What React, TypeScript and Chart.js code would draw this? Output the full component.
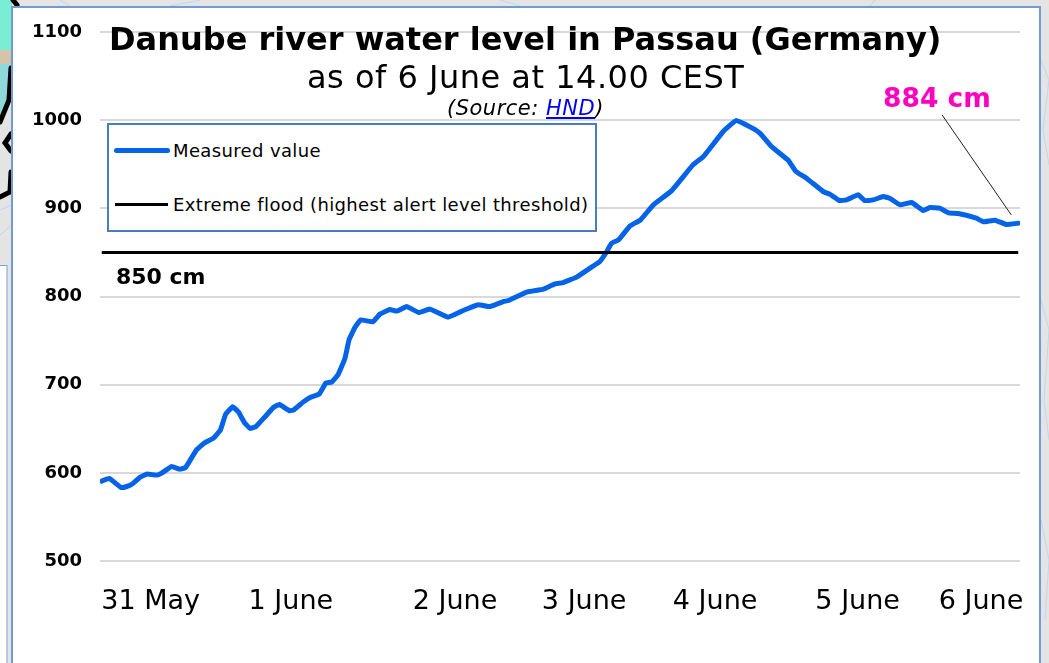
import React, { useEffect, useRef } from "react";
import { Chart, registerables } from "chart.js";

Chart.register(...registerables);

const FONT = '"DejaVu Sans", sans-serif';

const hours = [0.3, 1.6, 3.6, 4.6, 5.6, 6.9, 8.1, 9.7, 10.6, 12.3, 13.7, 14.7, 16.6, 17.9, 19.5, 20.7, 21.6, 22.8, 23.8, 24.8, 25.8, 26.8, 28.4, 29.8, 30.8, 32.6, 33.3, 34.9, 36.1, 37.7, 38.8, 39.8, 40.9, 42.1, 42.8, 43.8, 44.8, 46.9, 48.1, 49.8, 51, 52.7, 54.8, 56.7, 59.8, 62.4, 65, 67, 69.3, 70.2, 73.3, 76.2, 78.2, 79.6, 81.9, 84.2, 85.9, 87.1, 87.9, 89.1, 91.1, 92.9, 95.1, 98.2, 101.9, 103.7, 107.1, 109.3, 111.7, 113.4, 115.4, 118.3, 119.6, 121.4, 124.3, 125.4, 127.1, 128.3, 130.3, 131.4, 132.9, 134.6, 135.7, 137.5, 139.5, 141.5, 142.6, 144.3, 145.8, 147.5, 150.6, 151.8, 153.8, 155.8, 157.8];
const levels = [590.6, 593.6, 583.4, 584.5, 587.6, 595.2, 598.6, 597.4, 599.7, 607.2, 604.2, 606, 626.1, 633.7, 639.4, 648.8, 666.6, 674.9, 668.9, 657.1, 650.3, 652.5, 663.9, 674.1, 677.5, 670.3, 671.5, 680.2, 685.4, 689.6, 701.8, 702.9, 711.2, 730.1, 750.9, 764.8, 773.5, 771.3, 780, 785.2, 783.4, 788.6, 781.8, 785.7, 776.6, 784.1, 790.6, 788.6, 794.3, 795.4, 805, 808.4, 814.4, 815.8, 822, 832.2, 839.7, 851, 860.5, 864.3, 880.1, 887, 904, 919.8, 949.3, 958.7, 987.1, 999.5, 992.4, 985.3, 970.1, 954.2, 941.7, 934.2, 919, 916.1, 908.8, 909.6, 915.3, 908.8, 909.6, 913.4, 911.5, 904, 906.6, 897.5, 900.9, 900.2, 894.9, 894.1, 888.9, 884.7, 886.6, 881.6, 883.2];

const thresholdHours = [0.3, 157.8];
const thresholdLevels = [850, 850];
const leaderHours = [144.7, 156.6];
const leaderLevels = [1006, 892.6];

const dayTicks = [8.7, 32.8, 61, 83.2, 105.7, 130.2, 151.4];
const dayLabels = ["31 May", "1 June", "2 June", "3 June", "4 June", "5 June", "6 June"];
const yTicks = [500, 600, 700, 800, 900, 1000, 1100];

const LEGEND_MEASURED = "Measured value";
const LEGEND_EXTREME = "Extreme flood (highest alert level threshold)";

const zip = (xs: number[], ys: number[]) => xs.map((x, i) => ({ x, y: ys[i] }));

const backdrop = {
  id: "backdrop",
  beforeDraw(chart: any) {
    const c = chart.ctx;
    c.save();
    c.fillStyle = "#e4e4e4";
    c.fillRect(0, 0, 1049, 663);
    // faint rivers of the map behind the panel
    c.strokeStyle = "#c3d5ea";
    c.lineWidth = 1;
    c.beginPath();
    c.moveTo(1041, 60); c.lineTo(1049, 80); c.lineTo(1043, 130); c.lineTo(1049, 165);
    c.moveTo(1041, 300); c.lineTo(1049, 330); c.lineTo(1044, 400); c.lineTo(1049, 440);
    c.moveTo(1041, 520); c.lineTo(1049, 560); c.lineTo(1045, 620);
    c.moveTo(60, 0); c.lineTo(70, 6); c.moveTo(170, 6); c.lineTo(200, 0);
    c.moveTo(500, 0); c.lineTo(520, 6); c.moveTo(870, 6); c.lineTo(875, 0);
    c.moveTo(0, 210); c.lineTo(12, 205); c.moveTo(0, 235); c.lineTo(12, 225);
    c.stroke();
    // teal and tan fragment of the map, top left
    c.fillStyle = "#7aeed4";
    c.fillRect(0, 0, 12, 50);
    c.fillStyle = "#d3c4aa";
    c.fillRect(0, 50, 12, 14);
    c.fillStyle = "#8fd8dc";
    c.beginPath();
    c.moveTo(0, 64); c.lineTo(12, 64); c.lineTo(8, 100); c.lineTo(0, 118); c.closePath();
    c.fill();
    c.strokeStyle = "#000";
    c.lineWidth = 5;
    c.lineCap = "round";
    c.beginPath();
    c.moveTo(11, 68); c.lineTo(9, 100); c.lineTo(0, 122);
    c.moveTo(11, 134); c.lineTo(5, 143); c.lineTo(11, 151);
    c.moveTo(11, 172); c.lineTo(10, 192); c.lineTo(0, 197);
    c.moveTo(13, 0); c.lineTo(17, 5);
    c.stroke();
    c.lineCap = "butt";
    c.fillStyle = "#fff";
    c.fillRect(0, 265, 7, 398);
    c.strokeStyle = "#7fa3cc";
    c.lineWidth = 1;
    c.strokeRect(-1, 265.5, 8, 400);
    c.fillStyle = "#fff";
    c.fillRect(12, 7, 1028, 656);
    c.strokeStyle = "#6f9bd1";
    c.lineWidth = 2;
    c.beginPath();
    c.moveTo(12, 663); c.lineTo(12, 7); c.lineTo(1040, 7); c.lineTo(1040, 663);
    c.stroke();
    c.restore();
  },
};

const annotations = {
  id: "annotations",
  afterDraw(chart: any) {
    const c = chart.ctx;
    c.save();
    c.textBaseline = "middle";
    c.textAlign = "left";
    c.fillStyle = "#000";
    c.font = `bold 22px ${FONT}`;
    c.fillText("850 cm", 116, 278);
    c.fillStyle = "#ff00c0";
    c.font = `bold 26.5px ${FONT}`;
    c.fillText("884 cm", 883, 100);
    c.restore();
  },
};

export default function App() {
  const ref = useRef<HTMLCanvasElement | null>(null);
  useEffect(() => {
    const chart = new Chart(ref.current as HTMLCanvasElement, {
      type: "line",
      data: {
        datasets: [
          {
            label: LEGEND_EXTREME,
            data: zip(thresholdHours, thresholdLevels),
            borderColor: "#000",
            borderWidth: 3,
            pointRadius: 0,
          },
          {
            label: LEGEND_MEASURED,
            data: zip(hours, levels),
            borderColor: "#0563e8",
            borderWidth: 5,
            pointRadius: 0,
            borderCapStyle: "round",
            borderJoinStyle: "round",
            tension: 0.1,
          },
          {
            label: "884 cm",
            data: zip(leaderHours, leaderLevels),
            borderColor: "#222",
            borderWidth: 1,
            pointRadius: 0,
          },
        ],
      },
      options: {
        animation: false,
        responsive: false,
        layout: { padding: { top: 32, right: 29, left: 0, bottom: 0 } },
        plugins: { legend: { display: false }, tooltip: { enabled: false }, title: { display: false } },
        scales: {
          x: {
            type: "linear",
            min: 0,
            max: 158.1,
            afterBuildTicks: (axis: any) => {
              axis.ticks = dayTicks.map((value) => ({ value }));
            },
            afterFit: (axis: any) => {
              axis.height = 102;
            },
            grid: { display: false },
            border: { display: false },
            ticks: {
              autoSkip: false,
              maxRotation: 0,
              padding: 17,
              color: "#000",
              font: { family: FONT, size: 27 },
              callback: (value: any) => dayLabels[dayTicks.indexOf(Number(value))] ?? "",
            },
          },
          y: {
            min: 500,
            max: 1100,
            afterBuildTicks: (axis: any) => {
              axis.ticks = yTicks.map((value) => ({ value }));
            },
            afterFit: (axis: any) => {
              axis.width = 100;
            },
            grid: { color: "#d9d9d9", lineWidth: 2, drawTicks: false },
            border: { display: false },
            ticks: {
              padding: 18,
              color: "#000",
              font: { family: FONT, size: 18, weight: "bold" },
              callback: (value: any) => String(value),
            },
          },
        },
      },
      plugins: [backdrop, annotations],
    } as any);
    return () => chart.destroy();
  }, []);

  const text = (extra: React.CSSProperties): React.CSSProperties => ({
    position: "absolute",
    whiteSpace: "nowrap",
    fontFamily: FONT,
    color: "#000",
    lineHeight: 1,
    ...extra,
  });

  return (
    <div style={{ position: "absolute", left: 0, top: 0, width: 1049, height: 663, overflow: "hidden" }}>
      <canvas ref={ref} width={1049} height={663} style={{ display: "block" }} />
      <div style={text({ left: 109, top: 23, fontSize: 32, fontWeight: "bold" })}>Danube river water level in Passau (Germany)</div>
      <div style={text({ left: 307, top: 61, fontSize: 32, letterSpacing: 0.5 })}>as of 6 June at 14.00 CEST</div>
      <div style={text({ left: 447, top: 98, fontSize: 21, fontStyle: "italic", letterSpacing: 0.5 })}>
        (Source: <span style={{ color: "#0000ee", textDecoration: "underline" }}>HND</span>)
      </div>
      <div style={{ position: "absolute", left: 107, top: 123, width: 486, height: 105, border: "2px solid #4a7ebb", background: "#fff" }} />
      <div style={{ position: "absolute", left: 114, top: 148, width: 56, height: 5, borderRadius: 3, background: "#0563e8" }} />
      <div style={{ position: "absolute", left: 115, top: 203, width: 53, height: 2.5, background: "#000" }} />
      <div style={text({ left: 173, top: 142, fontSize: 18, letterSpacing: 0.36 })}>{LEGEND_MEASURED}</div>
      <div style={text({ left: 173, top: 196, fontSize: 18, letterSpacing: 0.36 })}>{LEGEND_EXTREME}</div>
    </div>
  );
}
